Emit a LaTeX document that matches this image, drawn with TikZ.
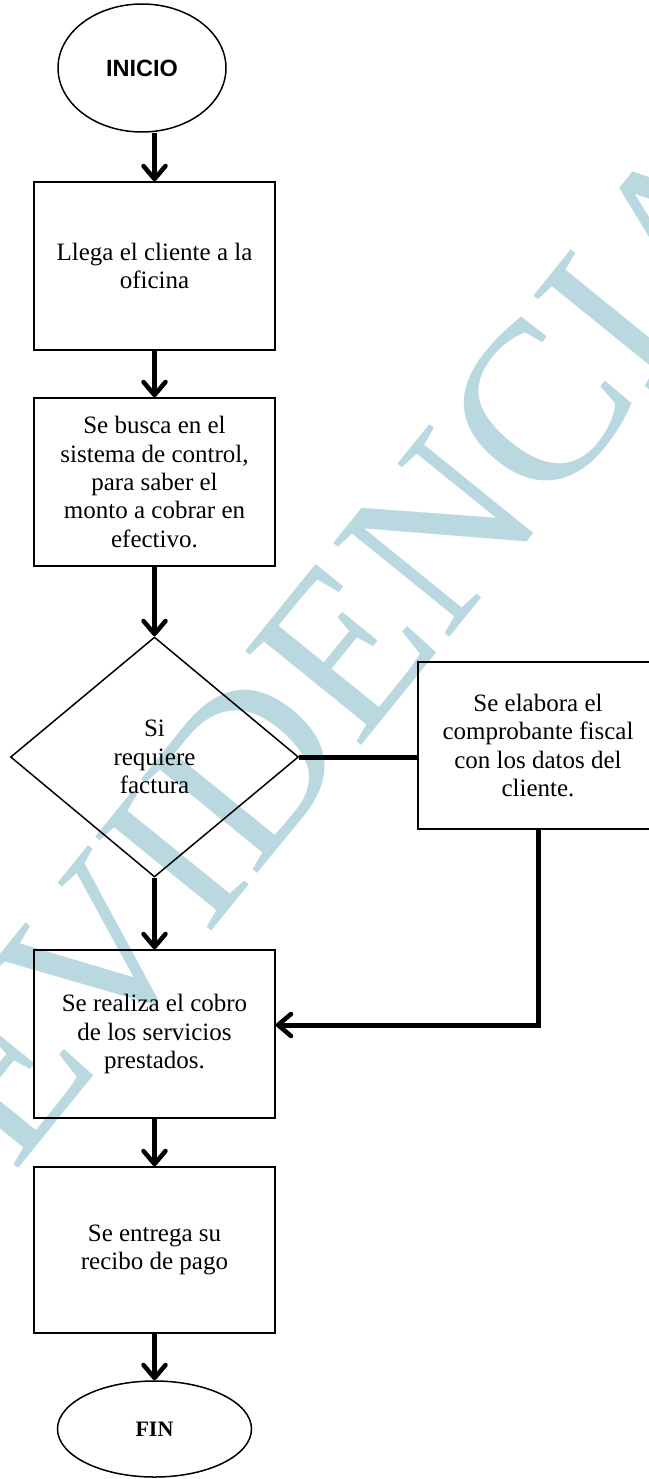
\documentclass[tikz,border=0pt]{standalone}
\usepackage{fontspec}
\setmainfont{Liberation Serif}
\newfontfamily\arialfont{Liberation Sans}
\usetikzlibrary{shapes.geometric,arrows.meta}
\definecolor{wm}{RGB}{185,216,224}
\begin{document}
\begin{tikzpicture}[x=1pt,y=-1pt,
  boxstyle/.style={draw, line width=1.5pt, rectangle, minimum width=241pt, minimum height=168pt,
    align=center, inner sep=0pt, font=\fontsize{25}{28.3}\selectfont},
  termstyle/.style={draw, line width=1.5pt, ellipse, inner sep=0pt},
  arr/.style={line width=5pt, -{Straight Barb[length=13pt,width=22pt,line width=4.5pt,round]}},
  thickline/.style={line width=5pt}]
\useasboundingbox (0,0) rectangle (648,1479);
% watermark
\begin{scope}[shift={(348,645)}, rotate=51]
  \node[transform shape, text=wm, inner sep=0pt, font=\fontsize{228}{228}\selectfont] (wmk) at (0,0) {EVIDENCIA};
\end{scope}
% nodes
\node[termstyle, minimum width=168pt, minimum height=128pt,
  font=\arialfont\bfseries\fontsize{23.5}{28}\selectfont] (inicio) at (142,68) {INICIO};
\node[boxstyle] (b1) at (154.5,266) {Llega el cliente a la\\oficina};
\node[boxstyle] (b2) at (154.5,482) {Se busca en el\\sistema de control,\\para saber el\\monto a cobrar en\\efectivo.};
\node[diamond, draw, line width=1.5pt, minimum width=288pt, minimum height=240pt, inner sep=0pt,
  align=center, font=\fontsize{25}{28.3}\selectfont] (dec) at (154.5,757) {Si\\requiere\\factura};
\node[boxstyle, minimum width=240pt, minimum height=167pt] (b3) at (538,745.5) {Se elabora el\\comprobante fiscal\\con los datos del\\cliente.};
\node[boxstyle] (b4) at (154.5,1034) {Se realiza el cobro\\de los servicios\\prestados.};
\node[boxstyle, minimum height=166pt] (b5) at (154.5,1250) {Se entrega su\\recibo de pago};
\node[termstyle, minimum width=194pt, minimum height=96pt,
  font=\bfseries\fontsize{22}{26}\selectfont] (fin) at (154.5,1429) {FIN};
% connectors
\draw[arr] (inicio.south -| b1.north) -- (b1.north);
\draw[arr] (b1) -- (b2);
\draw[arr] (b2) -- (dec);
\draw[arr] (dec) -- (b4);
\draw[arr] (b4) -- (b5);
\draw[arr] (b5) -- (fin);
\draw[thickline] (dec.east) -- (dec.east -| b3.west);
\draw[arr] (b3.south) |- ([yshift=9pt]b4.east);
\end{tikzpicture}
\end{document}
